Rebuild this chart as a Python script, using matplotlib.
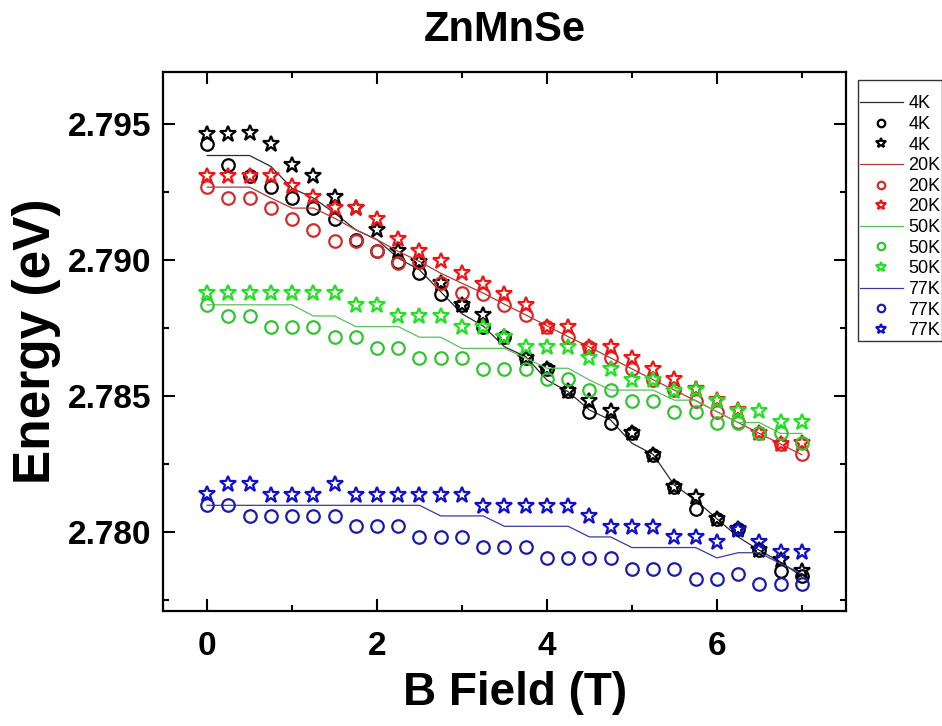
import numpy as np
import matplotlib
matplotlib.use("Agg")
import matplotlib.pyplot as plt

plt.rcParams['font.family'] = ['Liberation Sans', 'DejaVu Sans']

# B field (T)
b_field = [0.0, 0.25, 0.5, 0.75, 1.0, 1.25, 1.5, 1.75, 2.0, 2.25, 2.5, 2.75, 3.0, 3.25,
           3.5, 3.75, 4.0, 4.25, 4.5, 4.75, 5.0, 5.25, 5.5, 5.75, 6.0, 6.25, 6.5, 6.75, 7.0]

# 4K
e4_line = [2.79383, 2.79383, 2.79383, 2.79343, 2.79263, 2.79227, 2.79172, 2.79110, 2.79074, 2.79006,
           2.78963, 2.78883, 2.78802, 2.78757, 2.78681, 2.78645, 2.78559, 2.78516, 2.78449, 2.78412,
           2.78327, 2.78286, 2.78173, 2.78118, 2.78050, 2.77983, 2.77934, 2.77891, 2.77838]
e4_circ = [2.79426, 2.79349, 2.79306, 2.79267, 2.79227, 2.79189, 2.79150, 2.79074, 2.79034, 2.78992,
           2.78951, 2.78874, 2.78835, 2.78755, 2.78718, 2.78639, 2.78598, 2.78518, 2.78442, 2.78402,
           2.78363, 2.78285, 2.78167, 2.78087, 2.78050, 2.78013, 2.77934, 2.77857, 2.77840]
e4_star = [2.79463, 2.79463, 2.79466, 2.79426, 2.79347, 2.79306, 2.79230, 2.79190, 2.79110, 2.79031,
           2.78992, 2.78914, 2.78835, 2.78798, 2.78718, 2.78639, 2.78598, 2.78518, 2.78482, 2.78445,
           2.78363, 2.78285, 2.78167, 2.78130, 2.78050, 2.78013, 2.77934, 2.77897, 2.77858]

# 20K
e20_line = [2.79267, 2.79267, 2.79267, 2.79227, 2.79190, 2.79190, 2.79153, 2.79110, 2.79074, 2.79031,
            2.78994, 2.78951, 2.78914, 2.78878, 2.78837, 2.78798, 2.78758, 2.78718, 2.78680, 2.78640,
            2.78600, 2.78560, 2.78522, 2.78483, 2.78443, 2.78403, 2.78363, 2.78324, 2.78285]
e20_circ = [2.79266, 2.79227, 2.79227, 2.79189, 2.79150, 2.79110, 2.79071, 2.79071, 2.79031, 2.78990,
            2.78992, 2.78914, 2.78878, 2.78874, 2.78835, 2.78796, 2.78755, 2.78716, 2.78679, 2.78639,
            2.78598, 2.78559, 2.78522, 2.78483, 2.78442, 2.78403, 2.78363, 2.78324, 2.78286]
e20_star = [2.79309, 2.79309, 2.79306, 2.79306, 2.79270, 2.79230, 2.79190, 2.79190, 2.79150, 2.79075,
            2.79031, 2.78994, 2.78953, 2.78913, 2.78874, 2.78835, 2.78755, 2.78755, 2.78679, 2.78679,
            2.78639, 2.78600, 2.78562, 2.78525, 2.78485, 2.78449, 2.78363, 2.78324, 2.78326]

# 50K
e50_line = [2.78835, 2.78835, 2.78835, 2.78835, 2.78835, 2.78794, 2.78794, 2.78755, 2.78755, 2.78755,
            2.78716, 2.78716, 2.78675, 2.78675, 2.78675, 2.78639, 2.78602, 2.78602, 2.78559, 2.78522,
            2.78522, 2.78522, 2.78485, 2.78485, 2.78442, 2.78403, 2.78403, 2.78363, 2.78363]
e50_circ = [2.78835, 2.78795, 2.78795, 2.78755, 2.78755, 2.78755, 2.78716, 2.78716, 2.78678, 2.78678,
            2.78639, 2.78639, 2.78639, 2.78600, 2.78600, 2.78600, 2.78561, 2.78561, 2.78522, 2.78522,
            2.78482, 2.78482, 2.78442, 2.78442, 2.78402, 2.78402, 2.78363, 2.78363, 2.78326]
e50_star = [2.78878, 2.78878, 2.78878, 2.78878, 2.78878, 2.78878, 2.78878, 2.78835, 2.78835, 2.78794,
            2.78794, 2.78794, 2.78755, 2.78755, 2.78718, 2.78681, 2.78681, 2.78681, 2.78639, 2.78598,
            2.78559, 2.78559, 2.78520, 2.78522, 2.78482, 2.78445, 2.78445, 2.78405, 2.78405]

# 77K
e77_line = [2.78099, 2.78099, 2.78099, 2.78099, 2.78099, 2.78099, 2.78099, 2.78099, 2.78099, 2.78099,
            2.78099, 2.78060, 2.78060, 2.78060, 2.78022, 2.78022, 2.78022, 2.78022, 2.77983, 2.77983,
            2.77944, 2.77944, 2.77944, 2.77944, 2.77906, 2.77925, 2.77925, 2.77885, 2.77848]
e77_circ = [2.78099, 2.78099, 2.78060, 2.78060, 2.78060, 2.78060, 2.78060, 2.78022, 2.78022, 2.78022,
            2.77983, 2.77983, 2.77983, 2.77945, 2.77945, 2.77945, 2.77906, 2.77906, 2.77906, 2.77906,
            2.77867, 2.77867, 2.77867, 2.77827, 2.77827, 2.77848, 2.77809, 2.77809, 2.77809]
e77_star = [2.78140, 2.78179, 2.78179, 2.78138, 2.78138, 2.78138, 2.78179, 2.78138, 2.78138, 2.78138,
            2.78138, 2.78138, 2.78138, 2.78098, 2.78098, 2.78098, 2.78098, 2.78098, 2.78060, 2.78020,
            2.78020, 2.78020, 2.77983, 2.77983, 2.77964, 2.78010, 2.77966, 2.77928, 2.77928]

temps = ['4K', '20K', '50K', '77K']
lines = [e4_line, e20_line, e50_line, e77_line]
circs = [e4_circ, e20_circ, e50_circ, e77_circ]
stars = [e4_star, e20_star, e50_star, e77_star]
line_cols = ['#2a2a2a', '#b03a3a', '#5cbf5c', '#3a3a9a']
circ_cols = ['#000000', '#d42c2c', '#33c433', '#1c1caa']
star_cols = ['#000000', '#f01414', '#22e022', '#1010cc']

fig = plt.figure(figsize=(9.42, 7.26), dpi=100)
ax = fig.add_axes([0.173, 0.158, 0.725, 0.743])

for t, ln, cc, ss, lc, oc, sc in zip(temps, lines, circs, stars, line_cols, circ_cols, star_cols):
    ax.plot(b_field, ln, '-', color=lc, lw=0.9, label=t)
    ax.plot(b_field, cc, 'o', ls='none', ms=9, mfc='none', mec=oc, mew=1.6, label=t)
    ax.plot(b_field, ss, '*', ls='none', ms=12, mfc='none', mec=sc, mew=1.6, label=t)

ax.set_xlim(-0.52, 7.52)
ax.set_ylim(2.7771, 2.7969)
ax.set_xticks([0, 2, 4, 6])
ax.set_xticks([1, 3, 5, 7], minor=True)
ax.set_yticks([2.780, 2.785, 2.790, 2.795])
ax.set_yticks([2.7775, 2.7825, 2.7875, 2.7925], minor=True)
ax.set_yticklabels(['2.780', '2.785', '2.790', '2.795'])

ax.tick_params(which='both', direction='in', top=True, right=True, width=1.5)
ax.tick_params(which='major', length=8.5)
ax.tick_params(which='minor', length=4.5)
ax.tick_params(axis='x', pad=14)
ax.tick_params(axis='y', pad=8)
for lab in ax.get_xticklabels() + ax.get_yticklabels():
    lab.set_fontsize(24)
    lab.set_fontweight('bold')
for sp in ax.spines.values():
    sp.set_linewidth(1.6)

ax.set_xlabel('B Field (T)', fontsize=33, fontweight='bold')
ax.xaxis.set_label_coords(0.515, -0.11)
ax.set_ylabel('Energy (eV)', fontsize=37, fontweight='bold')
ax.yaxis.set_label_coords(-0.15, 0.5)
fig.text(0.536, 0.958, 'ZnMnSe', fontsize=30, fontweight='bold', ha='center', va='center')

leg = fig.legend(loc='upper left', bbox_to_anchor=(858 / 942, 1 - 80 / 726),
                 fontsize=13, frameon=True, fancybox=False, edgecolor='black',
                 handlelength=2.4, handletextpad=0.28, labelspacing=0.2,
                 borderpad=0.1, borderaxespad=0, markerscale=0.6,
                 title=' ', title_fontsize=7)
leg.get_frame().set_linewidth(1.0)

fig.savefig('out.png', dpi=100)
